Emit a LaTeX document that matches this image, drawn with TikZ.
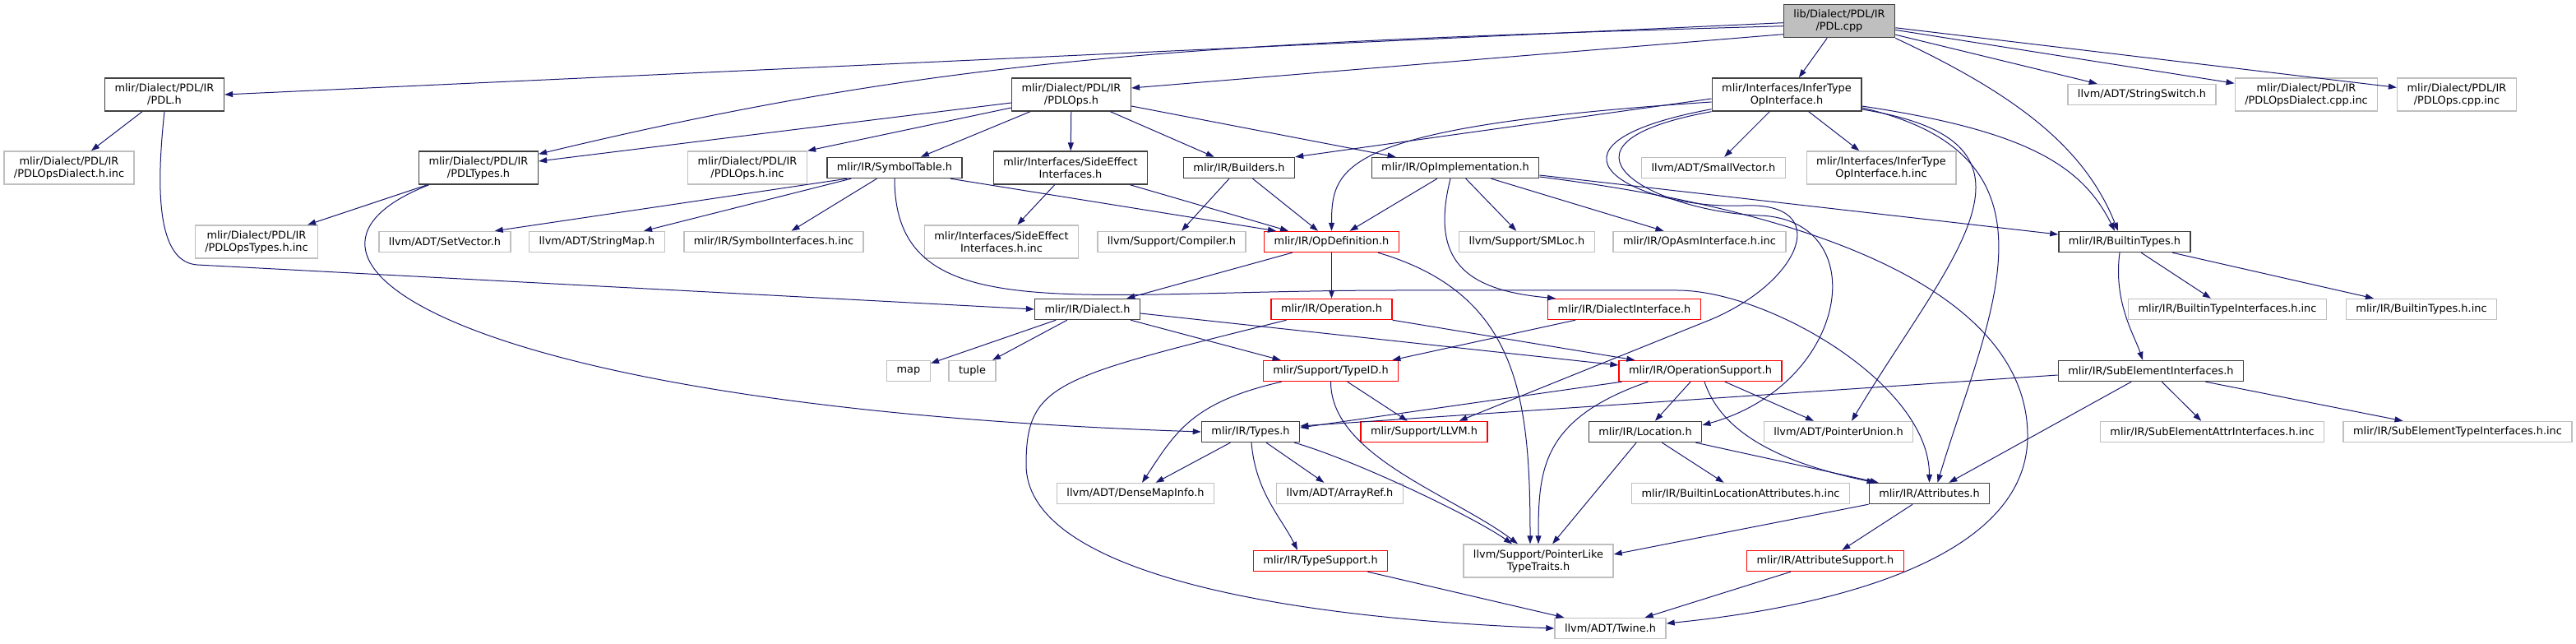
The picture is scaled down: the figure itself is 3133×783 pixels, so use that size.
\documentclass[tikz,border=0pt]{standalone}
\usepackage{fontspec}
\setmainfont{DejaVu Sans}
\usetikzlibrary{arrows.meta}
\definecolor{edgeblue}{HTML}{191970}
\definecolor{boxgray}{HTML}{BFBFBF}
\definecolor{boxdark}{HTML}{404040}
\tikzset{
  incbox/.style={
    draw, line width=1.4pt, fill=white,
    inner xsep=12pt, inner ysep=3pt,   % padding round the file name
    minimum height=25pt, align=center,
    font=\fontsize{12.9pt}{15pt}\selectfont
  },
  hdr/.style={incbox, draw=boxdark},
  sysbox/.style={incbox, draw=boxgray},
  cutbox/.style={incbox, draw=red},
  rootbox/.style={incbox, draw=boxdark, fill=boxgray},
  tall/.style={minimum height=40pt},
  incl/.style={
    ->, >={Triangle[length=10pt,width=7pt]}, % include arrow
    draw=edgeblue, line width=1pt
  }
}

\begin{document}
\begin{tikzpicture}[x=1pt, y=-1pt]
    \useasboundingbox (0,0) rectangle (3133,783);

    % the source file
    \node[rootbox, tall] (cpp) at (2237,25.7) {lib/Dialect/PDL/IR\\/PDL.cpp};

    % first row
    \node[hdr, tall] (pdlh) at (200,115) {mlir/Dialect/PDL/IR\\/PDL.h};
    \node[hdr, tall] (pdlops) at (1303,115) {mlir/Dialect/PDL/IR\\/PDLOps.h};
    \node[hdr, tall] (infer) at (2173,115) {mlir/Interfaces/InferType\\OpInterface.h};
    \node[sysbox] (strswitch) at (2605,115) {llvm/ADT/StringSwitch.h};
    \node[sysbox, tall] (dialectcppinc) at (2805,115) {mlir/Dialect/PDL/IR\\/PDLOpsDialect.cpp.inc};
    \node[sysbox, tall] (opscppinc) at (2988,115) {mlir/Dialect/PDL/IR\\/PDLOps.cpp.inc};

    % second row
    \node[sysbox, tall] (dialecthinc) at (84,204) {mlir/Dialect/PDL/IR\\/PDLOpsDialect.h.inc};
    \node[hdr, tall] (pdltypes) at (582,204) {mlir/Dialect/PDL/IR\\/PDLTypes.h};
    \node[sysbox, tall] (opshinc) at (909,204) {mlir/Dialect/PDL/IR\\/PDLOps.h.inc};
    \node[hdr] (symtab) at (1088,204) {mlir/IR/SymbolTable.h};
    \node[hdr, tall] (sideeff) at (1302,204) {mlir/Interfaces/SideEffect\\Interfaces.h};
    \node[hdr] (builders) at (1507,204) {mlir/IR/Builders.h};
    \node[hdr] (opimpl) at (1770,204) {mlir/IR/OpImplementation.h};
    \node[sysbox] (smallvec) at (2084,204) {llvm/ADT/SmallVector.h};
    \node[sysbox, tall] (inferinc) at (2288,204) {mlir/Interfaces/InferType\\OpInterface.h.inc};

    % third row
    \node[sysbox, tall] (typeshinc) at (312,294) {mlir/Dialect/PDL/IR\\/PDLOpsTypes.h.inc};
    \node[sysbox] (setvec) at (541,294) {llvm/ADT/SetVector.h};
    \node[sysbox] (strmap) at (726,294) {llvm/ADT/StringMap.h};
    \node[sysbox] (syminc) at (941,294) {mlir/IR/SymbolInterfaces.h.inc};
    \node[sysbox, tall] (sideinc) at (1218,294) {mlir/Interfaces/SideEffect\\Interfaces.h.inc};
    \node[sysbox] (compiler) at (1425,294) {llvm/Support/Compiler.h};
    \node[cutbox] (opdef) at (1619.5,294) {mlir/IR/OpDefinition.h};
    \node[sysbox] (smloc) at (1857,294) {llvm/Support/SMLoc.h};
    \node[sysbox] (asminc) at (2067,294) {mlir/IR/OpAsmInterface.h.inc};
    \node[hdr] (builtintypes) at (2584,294) {mlir/IR/BuiltinTypes.h};

    % fourth row
    \node[hdr] (dialecth) at (1322.5,376) {mlir/IR/Dialect.h};
    \node[cutbox] (operation) at (1619.5,376) {mlir/IR/Operation.h};
    \node[cutbox] (dialectiface) at (1975.5,376) {mlir/IR/DialectInterface.h};
    \node[sysbox] (bticinc) at (2709,376) {mlir/IR/BuiltinTypeInterfaces.h.inc};
    \node[sysbox] (btinc) at (2945,376) {mlir/IR/BuiltinTypes.h.inc};

    % fifth row
    \node[sysbox] (map) at (1105,451) {map};
    \node[sysbox] (tuple) at (1182.5,451) {tuple};
    \node[cutbox] (typeid) at (1618.5,451) {mlir/Support/TypeID.h};
    \node[cutbox] (opsupport) at (2068,451) {mlir/IR/OperationSupport.h};
    \node[hdr] (subelem) at (2616,451) {mlir/IR/SubElementInterfaces.h};

    % sixth row
    \node[hdr] (types) at (1521,525) {mlir/IR/Types.h};
    \node[cutbox] (llvmh) at (1732,525) {mlir/Support/LLVM.h};
    \node[hdr] (location) at (2001,525) {mlir/IR/Location.h};
    \node[sysbox] (ptrunion) at (2236,525) {llvm/ADT/PointerUnion.h};
    \node[sysbox] (subattrinc) at (2690.5,525) {mlir/IR/SubElementAttrInterfaces.h.inc};
    \node[sysbox] (subtypeinc) at (2989,525) {mlir/IR/SubElementTypeInterfaces.h.inc};

    % seventh row
    \node[sysbox] (densemap) at (1381,600) {llvm/ADT/DenseMapInfo.h};
    \node[sysbox] (arrayref) at (1629.5,600) {llvm/ADT/ArrayRef.h};
    \node[sysbox] (builtinlocinc) at (2117,600) {mlir/IR/BuiltinLocationAttributes.h.inc};
    \node[hdr] (attributes) at (2346.5,600) {mlir/IR/Attributes.h};

    % eighth and last rows
    \node[cutbox] (typesupport) at (1606,682) {mlir/IR/TypeSupport.h};
    \node[sysbox, tall] (ptrlike) at (1871,682) {llvm/Support/PointerLike\\TypeTraits.h};
    \node[cutbox] (attrsupport) at (2220,682) {mlir/IR/AttributeSupport.h};
    \node[sysbox] (twine) at (1958.5,764) {llvm/ADT/Twine.h};

    % includes of the source file
    \draw[incl] ([yshift=-2pt]cpp.west) -- (pdlh.east);
    \draw[incl] ([yshift=-6pt]cpp.west) .. controls +(-700,20) and +(500,-120) .. ([yshift=-4pt]pdltypes.north east);
    \draw[incl] ([yshift=-16pt]cpp.west) -- ([yshift=8pt]pdlops.east);
    \draw[incl] (cpp) -- (infer);
    \draw[incl] (cpp) -- (strswitch);
    \draw[incl] (cpp) -- (dialectcppinc);
    \draw[incl] (cpp) -- (opscppinc);
    \draw[incl] (cpp.south east) .. controls +(150,70) and +(-40,-100) .. ([xshift=-8pt]builtintypes.north);

    % PDL.h and PDLTypes.h
    \draw[incl] (pdlh) -- (dialecthinc);
    \draw[incl] (pdlh.south) .. controls +(-12,110) and +(-45,-3) .. (240,322) -- (dialecth.west);
    \draw[incl] (pdltypes) -- (typeshinc);
    \draw[incl] ([xshift=13pt]pdltypes.south west) .. controls +(-230,90) and +(-900,-30) .. (types.west);

    % PDLOps.h
    \draw[incl] ([yshift=-10pt]pdlops.west) -- ([yshift=8pt]pdltypes.east);
    \draw[incl] ([yshift=-16pt]pdlops.west) -- (opshinc.north east);
    \draw[incl] (pdlops) -- (symtab);
    \draw[incl] (pdlops) -- (sideeff);
    \draw[incl] (pdlops) -- (builders);
    \draw[incl] ([yshift=-14pt]pdlops.east) -- ([xshift=30pt]opimpl.north west);

    % SymbolTable.h
    \draw[incl] ([xshift=25pt]symtab.south west) -- ([xshift=-20pt]setvec.north east);
    \draw[incl] ([xshift=30pt]symtab.south west) -- ([xshift=-26pt]strmap.north east);
    \draw[incl] (symtab) -- (syminc);
    \draw[incl] ([xshift=-15pt]symtab.south east) -- ([xshift=15pt]opdef.north west);
    \draw[incl] (symtab.south) .. controls +(0,183) and +(-400,0) .. (1700,353) -- (2040,353)
        .. controls +(110,0) and +(0,-120) .. (attributes.north);

    % SideEffectInterfaces.h and Builders.h
    \draw[incl] (sideeff) -- (sideinc);
    \draw[incl] ([xshift=-22pt]sideeff.south east) -- ([xshift=30pt]opdef.north west);
    \draw[incl] (builders) -- (compiler);
    \draw[incl] (builders) -- (opdef);

    % OpImplementation.h
    \draw[incl] (opimpl) -- (opdef);
    \draw[incl] (opimpl) -- (smloc);
    \draw[incl] (opimpl) -- (asminc);
    \draw[incl] ([xshift=-6pt]opimpl.south) .. controls +(-25,100) and +(-110,-10) .. ([xshift=10pt]dialectiface.north west);
    \draw[incl] ([yshift=-9pt]opimpl.east) -- ([yshift=9pt]builtintypes.west);
    \draw[incl] ([yshift=-11pt]opimpl.east) .. controls +(400,50) and +(0,-150) .. (2466,530)
        .. controls +(0,150) and +(200,-20) .. ([yshift=6pt]twine.east);

    % InferTypeOpInterface.h
    \draw[incl] (infer) -- (smallvec);
    \draw[incl] (infer) -- (inferinc);
    \draw[incl] ([yshift=-5pt]infer.west) -- (builders.north east);
    \draw[incl] ([yshift=-9pt]infer.west) .. controls +(-450,30) and +(0,-80) .. (opdef.north);
    \draw[incl] ([yshift=-14pt]infer.east) .. controls +(200,30) and +(-40,-80) .. ([xshift=-12pt]builtintypes.north);
    \draw[incl] ([yshift=-16pt]infer.east) .. controls +(260,60) and +(60,-200) .. ([xshift=10pt]attributes.north);
    \draw[incl] ([yshift=-18pt]infer.east) .. controls +(250,40) and +(120,-200) .. ([xshift=16pt]ptrunion.north);
    \draw[incl] (infer.south west) .. controls +(-220,40) and +(-130,-5) .. (2140,262)
        .. controls +(140,5) and +(180,-50) .. ([yshift=8pt]location.east);
    \draw[incl] ([yshift=3pt]infer.south west) .. controls +(-240,45) and +(-130,5) .. (2120,250)
        .. controls +(110,-5) and +(110,-47) .. (2082,388) -- ([xshift=-35pt]llvmh.north east);

    % OpDefinition.h
    \draw[incl] (opdef) -- (dialecth);
    \draw[incl] (opdef) -- (operation);
    \draw[incl] ([xshift=-26pt]opdef.south east) .. controls +(170,50) and +(0,-180) .. ([xshift=-10pt]ptrlike.north);

    % Dialect.h, Operation.h, DialectInterface.h
    \draw[incl] (dialecth) -- (map);
    \draw[incl] (dialecth) -- (tuple);
    \draw[incl] ([xshift=-12pt]dialecth.south east) -- ([xshift=22pt]typeid.north west);
    \draw[incl] ([yshift=-5pt]dialecth.east) -- ([yshift=7pt]opsupport.west);
    \draw[incl] (operation.south east) -- ([xshift=20pt]opsupport.north west);
    \draw[incl] ([xshift=-55pt]operation.south) .. controls +(-280,70) and +(0,-100) .. (1248,565)
        .. controls +(0,120) and +(-380,-15) .. (twine.west);
    \draw[incl] ([xshift=34pt]dialectiface.south west) -- ([xshift=-8pt]typeid.north east);

    % TypeID.h and OperationSupport.h
    \draw[incl] ([xshift=23pt]typeid.south west) .. controls +(-110,25) and +(40,-60) .. ([xshift=8pt]densemap.north);
    \draw[incl] (typeid) -- (llvmh);
    \draw[incl] (typeid.south) .. controls +(0,90) and +(-80,-60) .. ([xshift=-25pt]ptrlike.north);
    \draw[incl] ([xshift=4pt]opsupport.south west) -- ([yshift=5pt]types.east);
    \draw[incl] ([xshift=36pt]opsupport.south west) .. controls +(-130,45) and +(0,-90) .. (ptrlike.north);
    \draw[incl] (opsupport) -- (location);
    \draw[incl] (opsupport) -- (ptrunion);
    \draw[incl] ([xshift=5pt]opsupport.south) .. controls +(20,60) and +(-120,-25) .. ([xshift=8pt]attributes.north west);

    % BuiltinTypes.h and SubElementInterfaces.h
    \draw[incl] ([xshift=-6pt]builtintypes.south) .. controls +(-8,60) and +(-10,-30) .. ([xshift=-10pt]subelem.north);
    \draw[incl] (builtintypes) -- (bticinc);
    \draw[incl] (builtintypes) -- (btinc);
    \draw[incl] ([yshift=-5pt]subelem.west) -- ([yshift=7pt]types.east);
    \draw[incl] (subelem) -- (attributes);
    \draw[incl] (subelem) -- (subattrinc);
    \draw[incl] (subelem) -- (subtypeinc);

    % Location.h and Types.h
    \draw[incl] (location) -- (ptrlike);
    \draw[incl] (location) -- (builtinlocinc);
    \draw[incl] ([xshift=-8pt]location.south east) -- ([xshift=12pt]attributes.north west);
    \draw[incl] (types) -- (densemap);
    \draw[incl] (types) -- (arrayref);
    \draw[incl] ([xshift=1pt]types.south) .. controls +(5,60) and +(-20,-40) .. ([xshift=-28pt]typesupport.north);
    \draw[incl] ([xshift=-7pt]types.south east) .. controls +(70,20) and +(-50,-35) .. ([xshift=-32pt]ptrlike.north);

    % Attributes.h and the support headers
    \draw[incl] (attributes.south west) -- ([yshift=8pt]ptrlike.east);
    \draw[incl] (attributes) -- (attrsupport);
    \draw[incl] (attrsupport) -- (twine);
    \draw[incl] ([xshift=-25pt]typesupport.south east) -- ([xshift=12pt]twine.north west);
\end{tikzpicture}
\end{document}
